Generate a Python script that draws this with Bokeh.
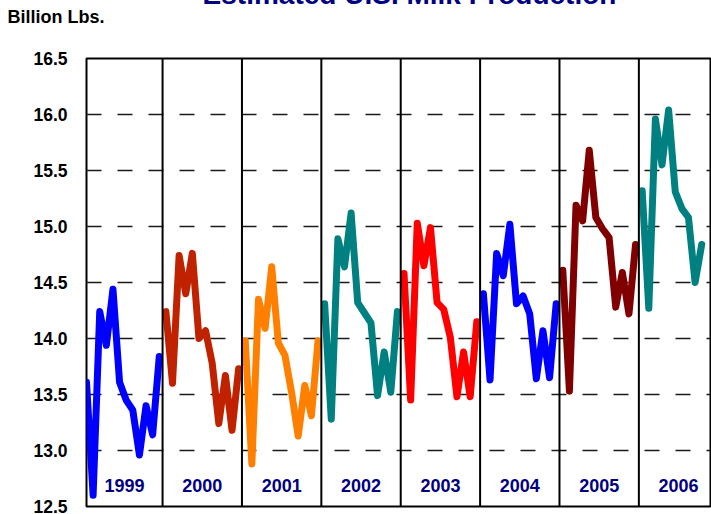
from bokeh.plotting import figure
from bokeh.models import Range1d, FixedTicker, NumeralTickFormatter, Label, Span
from bokeh.core.properties import value
from bokeh.embed import file_html
from bokeh.resources import INLINE

# ---- data ----
years = ["1999", "2000", "2001", "2002", "2003", "2004", "2005", "2006"]
colors = ["#0000FF", "#C02200", "#FF8000", "#008080", "#FF0000", "#0000FF", "#800000", "#008080"]
v1999 = [13.61, 12.60, 14.24, 13.94, 14.44, 13.61, 13.45, 13.36, 12.96, 13.40, 13.14, 13.84]
v2000 = [14.24, 13.60, 14.74, 14.40, 14.76, 14.00, 14.07, 13.78, 13.24, 13.67, 13.18, 13.73]
v2001 = [13.98, 12.88, 14.35, 14.09, 14.64, 13.96, 13.85, 13.52, 13.13, 13.58, 13.31, 13.98]
v2002 = [14.31, 13.28, 14.89, 14.64, 15.12, 14.32, 14.23, 14.14, 13.49, 13.88, 13.52, 14.24]
v2003 = [14.58, 13.45, 15.03, 14.65, 14.99, 14.32, 14.26, 14.01, 13.48, 13.88, 13.48, 14.15]
v2004 = [14.40, 13.63, 14.76, 14.56, 15.02, 14.31, 14.38, 14.22, 13.64, 14.07, 13.65, 14.31]
v2005 = [14.61, 13.53, 15.19, 15.05, 15.68, 15.08, 14.98, 14.90, 14.28, 14.59, 14.22, 14.84]
v2006 = [15.32, 14.27, 15.96, 15.55, 16.04, 15.31, 15.16, 15.08, 14.50, 14.84]
series = [v1999, v2000, v2001, v2002, v2003, v2004, v2005, v2006]
y_ticks = [12.5, 13.0, 13.5, 14.0, 14.5, 15.0, 15.5, 16.0, 16.5]
title = "Estimated U.S. Milk Production"
unit_label = "Billion Lbs."

FONT = "Liberation Sans"

p = figure(width=711, height=514, output_backend="svg", toolbar_location=None,
           x_range=Range1d(0, 94.48), y_range=Range1d(12.5, 16.5),
           min_border_left=86, min_border_right=0, min_border_top=58, min_border_bottom=8)
p.background_fill_color = "white"
p.border_fill_color = "white"
p.outline_line_color = "black"
p.outline_line_width = 2

# unit label as the plot title, top-left
p.title.text = unit_label
p.title.align = "left"
p.title.offset = -79
p.title.standoff = 1
p.title.text_font = FONT
p.title.text_font_style = "bold"
p.title.text_font_size = "18px"
p.title.text_color = "black"

p.xaxis.visible = False
p.xgrid.visible = False

ax = p.yaxis[0]
ax.ticker = FixedTicker(ticks=y_ticks)
ax.formatter = NumeralTickFormatter(format="0.0")
ax.axis_line_color = None
ax.major_tick_line_color = None
ax.minor_tick_line_color = None
ax.major_label_standoff = 13
ax.major_label_text_font = FONT
ax.major_label_text_font_style = "bold"
ax.major_label_text_font_size = "17.5px"
ax.major_label_text_color = "black"

p.ygrid.grid_line_color = "#1a1a1a"
p.ygrid.grid_line_width = 1.5
p.ygrid.grid_line_dash = "15 16"

# year dividers
for j in range(1, len(years)):
    p.add_layout(Span(location=12 * j - 0.5, dimension="height",
                      line_color="black", line_width=2))

# lines
for j, (vals, col) in enumerate(zip(series, colors)):
    xs = [12 * j + m for m in range(len(vals))]
    p.line(xs, vals, line_color=col, line_width=7, line_join="round", line_cap="round")

# year labels
centers = [(max(0, 12 * j - 0.5) + 12 * j + 11.5) / 2 for j in range(len(years))]
p.text(x=centers, y=[12.69] * len(years), text=years,
       text_align="center", text_baseline="middle",
       text_font=value(FONT), text_font_style="bold", text_font_size="18px",
       text_color="#000080")

# main title, mostly above the top edge as in the reference
p.add_layout(Label(x=48.83, y=17.071, text=title, text_align="center",
                   text_baseline="alphabetic", text_font=FONT, text_font_style="bold",
                   text_font_size="28px", text_color="#000080"), "above")

open("out.html", "w").write(file_html(p, INLINE))
